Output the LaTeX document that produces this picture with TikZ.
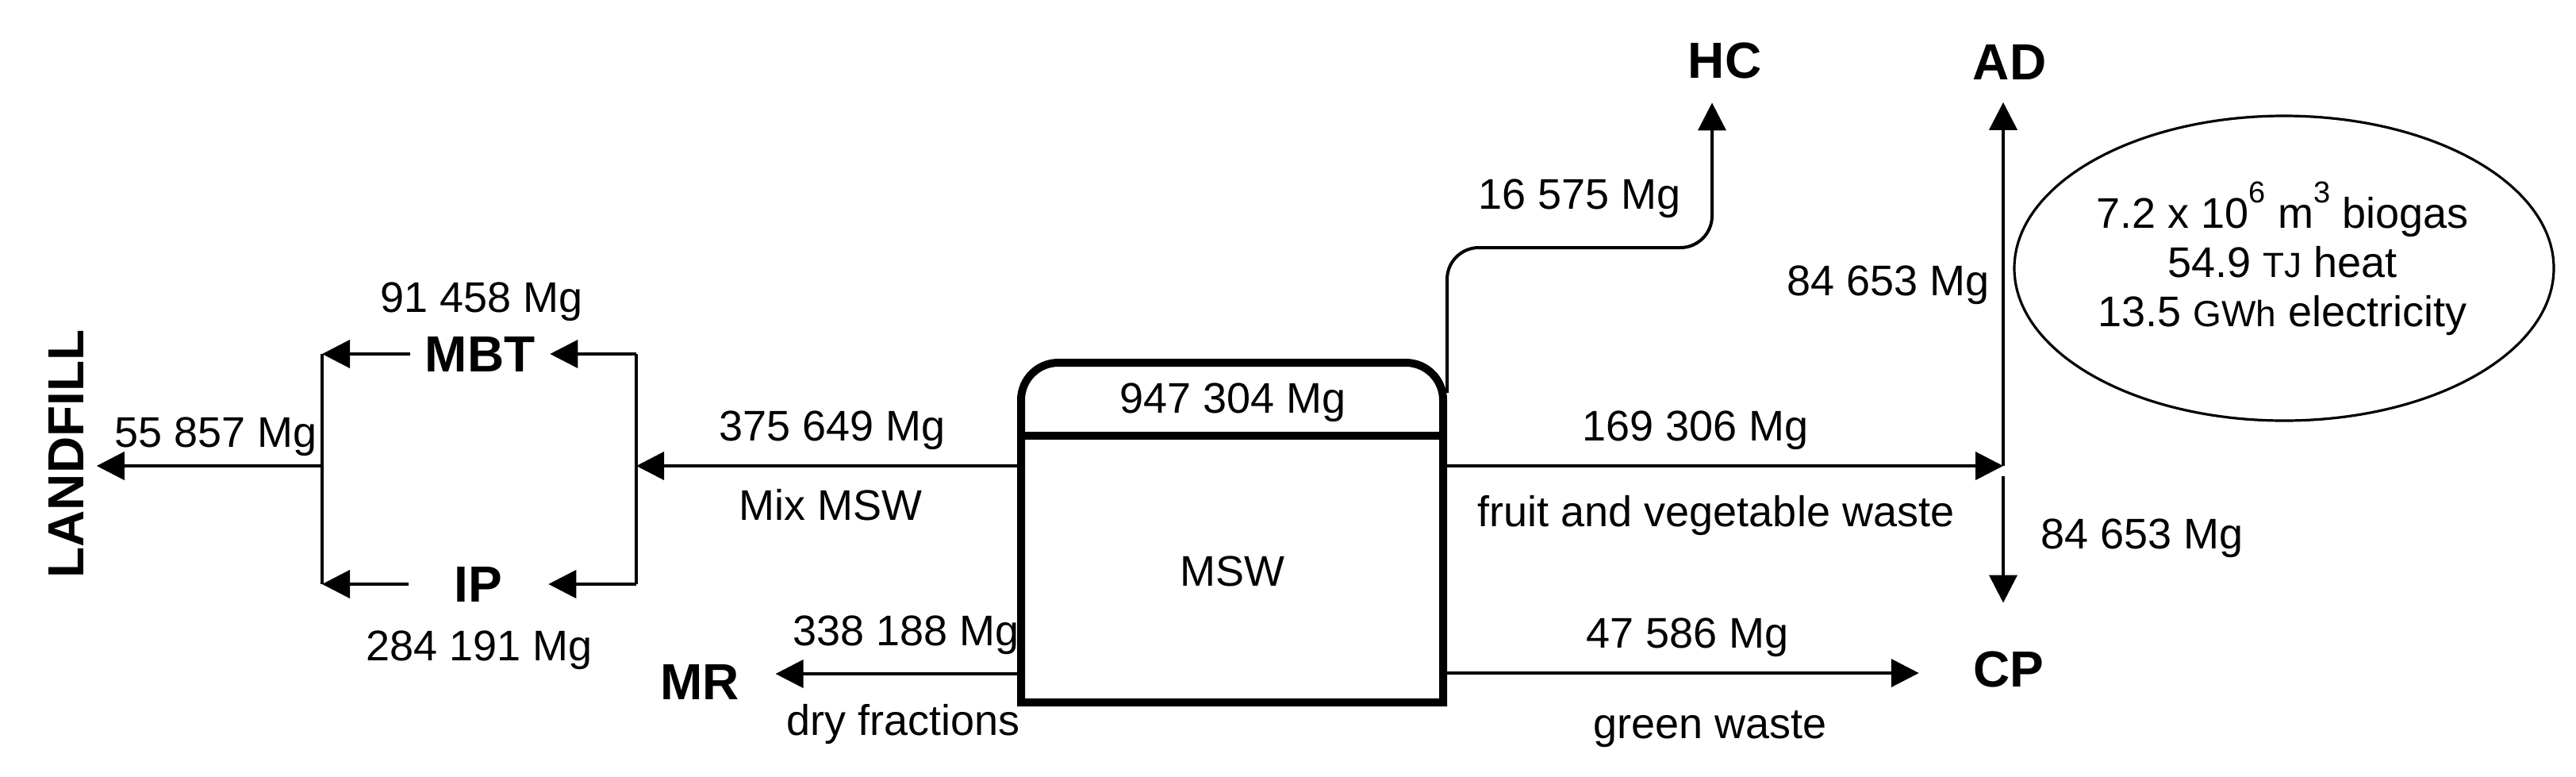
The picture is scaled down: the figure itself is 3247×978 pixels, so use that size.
\documentclass[tikz,border=0pt]{standalone}
\usepackage{fontspec}
\setmainfont{Liberation Sans}
\usetikzlibrary{arrows.meta,shapes.geometric}
\newcommand{\supr}[1]{\raisebox{8pt}{\fontsize{9.5}{10}\selectfont #1}}
\begin{document}
\begin{tikzpicture}[x=0.25pt,y=-0.25pt,
  ln/.style={line width=1pt},
  arr/.style={line width=1pt,-{Triangle[length=8.75pt,width=8.75pt]}},
  boxline/.style={line width=2.5pt},
  lab/.style={font=\fontsize{13.5}{16}\selectfont,inner sep=0pt,anchor=base},
  blab/.style={font=\fontsize{16}{19}\selectfont\bfseries,inner sep=0pt,anchor=base}]
\useasboundingbox (0,0) rectangle (3247,978);

% MSW box
\draw[boxline] (1287,885) -- (1287,650) [rounded corners=11.75pt] -- (1287,457) -- (1819,457) -- (1819,650) [sharp corners] -- (1819,885) -- cycle;
\draw[boxline] (1287,549) -- (1819,549);
\node[lab] (tot) at (1554,520) {947 304 Mg};
\node[lab] (msw) at (1553,738) {MSW};

% destination labels
\node[blab,minimum width=43.75pt] (mbt) at (605,468) {MBT};
\node[blab,minimum width=43.75pt] (ip) at (603,758) {IP};
\node[blab,inner xsep=11.25pt] (mr) at (882,881) {MR};
\node[blab,inner ysep=7.5pt] (hc) at (2174,98) {HC};
\node[blab,inner ysep=7pt] (ad) at (2533,100) {AD};
\node[blab,inner xsep=17pt,inner ysep=15pt] (cp) at (2532,865) {CP};
\node[font=\fontsize{16}{19}\selectfont\bfseries,inner xsep=0pt,inner ysep=4pt,rotate=90] (landfill) at (83,572) {LANDFILL};

% flow labels
\node[lab] (n91) at (607,393) {91 458 Mg};
\node[lab] (n55) at (272,563) {55 857 Mg};
\node[lab] (n284) at (604,832) {284 191 Mg};
\node[lab] (n375) at (1049,555) {375 649 Mg};
\node[lab] (mix) at (1047,655) {Mix MSW};
\node[lab] (n338) at (1142,813) {338 188 Mg};
\node[lab] (dry) at (1139,926) {dry fractions};
\node[lab] (n16) at (1991,263) {16 575 Mg};
\node[lab] (n169) at (2137,555) {169 306 Mg};
\node[lab] (fruit) at (2163,663) {fruit and vegetable waste};
\node[lab] (n84a) at (2380,372) {84 653 Mg};
\node[lab] (n84b) at (2700,691) {84 653 Mg};
\node[lab] (n47) at (2127,816) {47 586 Mg};
\node[lab] (green) at (2156,930) {green waste};

% biogas ellipse
\node[ellipse,draw,line width=0.8pt,minimum width=170pt,minimum height=96pt,inner sep=0pt] (bio) at (2879,338) {};
\node[font=\fontsize{13.5}{15.5}\selectfont,align=center,inner sep=0pt] (biotxt) at (2877,326)
  {7.2 x 10\supr{6} m\supr{3} biogas\\
   54.9 {\fontsize{11}{15.5}\selectfont TJ} heat\\
   13.5 {\fontsize{11.5}{15.5}\selectfont GWh} electricity};

% coordinates
\coordinate (mixS) at (1287,587);
\coordinate (rj) at (802,587);
\coordinate (lj) at (406,587);
\coordinate (dryS) at (1287,849);
\coordinate (fruitS) at (1819,587);
\coordinate (J) at (2525,587);
\coordinate (Jd) at (2525,600);
\coordinate (greenS) at (1819,848);
\coordinate (hcS) at (1824,495);
\coordinate (hcK) at (1824,312);
\coordinate (hcX) at (2158,312);

% left part
\draw[arr] (mixS) -- (rj);
\draw[ln] (rj |- mbt.east) -- (rj |- ip.east);
\draw[arr] (rj |- mbt.east) -- (mbt.east);
\draw[arr] (rj |- ip.east) -- (ip.east);
\draw[arr] (mbt.west) -- (lj |- mbt.west);
\draw[arr] (ip.west) -- (lj |- ip.west);
\draw[ln] (lj |- mbt.west) -- (lj |- ip.west);
\draw[arr] (lj) -- (lj -| landfill.south);
\draw[arr] (dryS) -- (dryS -| mr.east);

% right part
\draw[arr,rounded corners=10pt] (hcS) -- (hcK) -- (hcX) -- (hcX |- hc.south);
\draw[arr] (fruitS) -- (J);
\draw[arr] (J) -- (J |- ad.south);
\draw[arr] (Jd) -- (Jd |- cp.north);
\draw[arr] (greenS) -- (greenS -| cp.west);
\end{tikzpicture}
\end{document}
